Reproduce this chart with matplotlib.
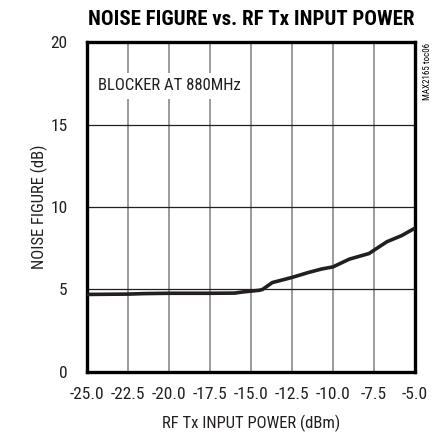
import matplotlib
matplotlib.use("Agg")
import matplotlib.pyplot as plt

# valores
potencia = [-25.0, -22.5, -21.5, -20.0, -17.5, -16.0, -15.5, -15.0, -14.5, -14.3,
            -13.7, -12.5, -11.5, -10.7, -10.0, -9.0, -7.8, -7.5, -6.7, -5.8, -5.0]
nf = [4.70, 4.72, 4.75, 4.77, 4.77, 4.78, 4.85, 4.90, 4.95, 5.00,
      5.42, 5.73, 6.03, 6.24, 6.37, 6.84, 7.18, 7.38, 7.90, 8.27, 8.72]

xticks = [-25.0, -22.5, -20.0, -17.5, -15.0, -12.5, -10.0, -7.5, -5.0]
yticks = [0, 5, 10, 15, 20]

plt.rcParams['font.family'] = ['Roboto Condensed', 'Archivo Narrow', 'DejaVu Sans']

fig = plt.figure(figsize=(4.4, 4.34), dpi=100)
ax = fig.add_axes([0.198, 0.143, 0.745, 0.76])

for x in xticks[1:-1]:
    ax.axvline(x, color='#8a8a8a', lw=1.2, zorder=1)
for y in yticks[1:-1]:
    ax.axhline(y, color='#231f20', lw=0.9, zorder=1)

ax.plot(potencia, nf, color='#231f20', lw=2.6, solid_capstyle='round', zorder=3)

ax.set_xlim(-25, -5)
ax.set_ylim(0, 20)
ax.set_xticks(xticks)
ax.set_xticklabels([f'{v:.1f}' for v in xticks])
ax.set_yticks(yticks)
ax.tick_params(length=0, labelsize=12.5, colors='#231f20')
ax.tick_params(axis='x', pad=11)
ax.tick_params(axis='y', pad=14)
for s in ax.spines.values():
    s.set_linewidth(2.4)

ax.set_xlabel('RF Tx INPUT POWER (dBm)', fontsize=12, labelpad=9, color='#231f20')
ax.set_ylabel('NOISE FIGURE (dB)', fontsize=12, labelpad=2, color='#231f20')
ax.set_title('NOISE FIGURE vs. RF Tx INPUT POWER', fontsize=15, fontweight='black', pad=12)

ax.text(-24.35, 17.35, 'BLOCKER AT 880MHz', fontsize=12, va='center', ha='left', color='#231f20',
        bbox=dict(facecolor='white', edgecolor='none', pad=4), zorder=2)
fig.text(0.972, 0.835, 'MAX2165 toc06', rotation=90, fontsize=6.5, ha='center', va='center')

fig.savefig('out.png', dpi=100)
